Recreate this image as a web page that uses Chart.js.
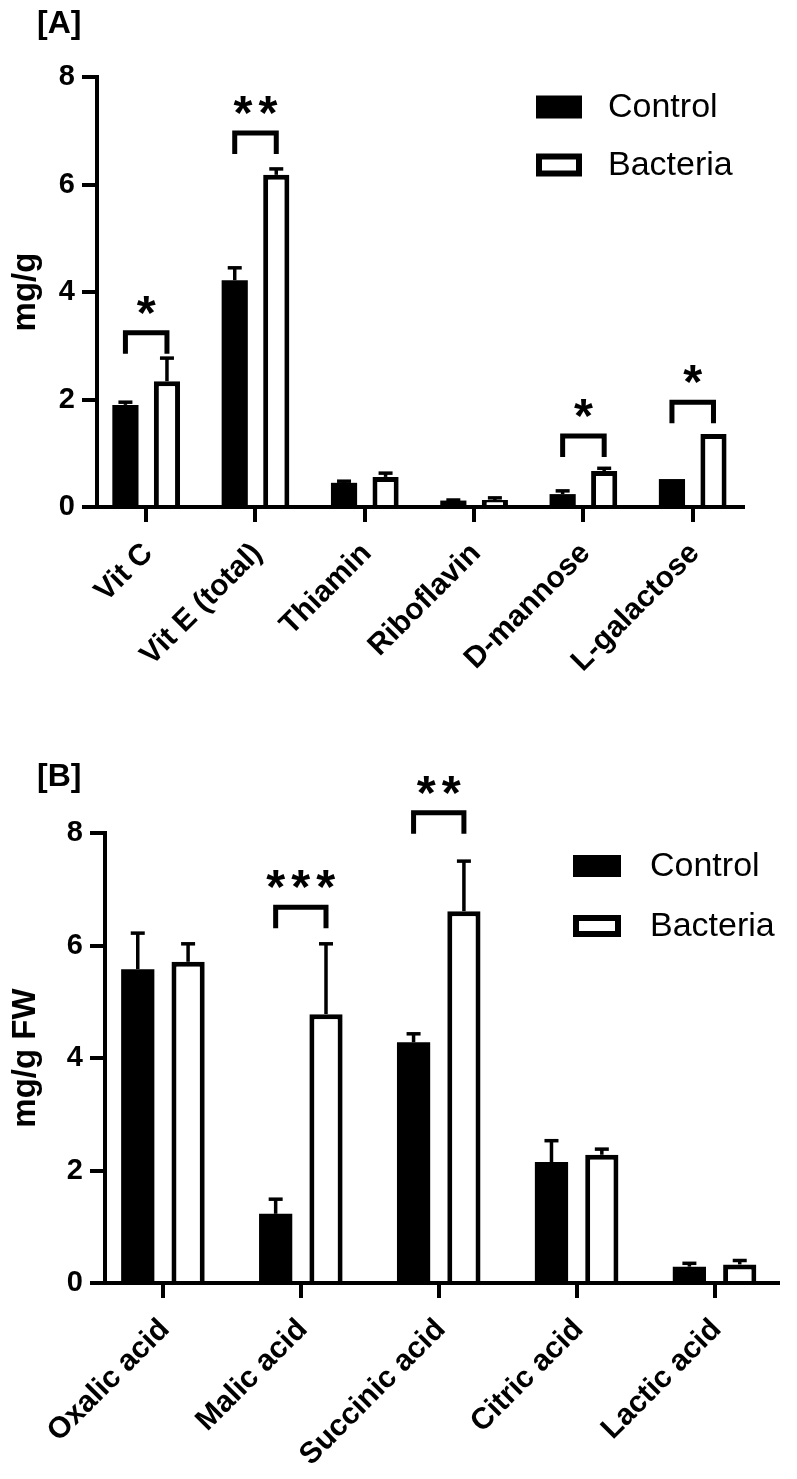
<!DOCTYPE html>
<html><head><meta charset="utf-8">
<script src="https://cdn.jsdelivr.net/npm/chart.js@4.4.1/dist/chart.umd.min.js"></script>
<style>
html,body{margin:0;padding:0;background:#fff;}
body{width:797px;height:1479px;position:relative;overflow:hidden;font-family:"Liberation Sans",Arial,sans-serif;}
.panel{position:absolute;left:0;width:797px;}
.tag{position:absolute;font-weight:bold;font-size:32px;line-height:32px;color:#000;}
</style></head><body>
<div class="panel" style="top:0;height:740px"><canvas id="cA"></canvas></div>
<div class="panel" style="top:740px;height:739px"><canvas id="cB"></canvas></div>
<div class="tag" style="left:37px;top:6px">[A]</div>
<div class="tag" style="left:37px;top:759px">[B]</div>
<script>
// ---------- Panel A data ----------
const catsA = ['Vit C', 'Vit E (total)', 'Thiamin', 'Riboflavin', 'D-mannose', 'L-galactose'];
const controlA = [1.90, 4.22, 0.45, 0.12, 0.24, 0.52];
const controlErrA = [0.05, 0.23, 0.03, 0.01, 0.06, 0];
const bacteriaA = [2.34, 6.18, 0.56, 0.13, 0.67, 1.36];
const bacteriaErrA = [0.43, 0.11, 0.07, 0.04, 0.05, 0];
const sigIdxA = [0, 1, 4, 5];
const sigLevelA = [3.24, 6.96, 1.32, 1.95];
const sigTextA = ['*', '**', '*', '*'];
const yTitleA = 'mg/g';

// ---------- Panel B data ----------
const catsB = ['Oxalic acid', 'Malic acid', 'Succinic acid', 'Citric acid', 'Lactic acid'];
const controlB = [5.58, 1.23, 4.28, 2.15, 0.29];
const controlErrB = [0.64, 0.26, 0.15, 0.38, 0.06];
const bacteriaB = [5.71, 4.78, 6.61, 2.28, 0.33];
const bacteriaErrB = [0.32, 1.25, 0.89, 0.10, 0.07];
const sigIdxB = [1, 2];
const sigLevelB = [6.68, 8.36];
const sigTextB = ['***', '**'];
const yTitleB = 'mg/g FW';

const yTicks = [0, 2, 4, 6, 8];
const seriesNames = ['Control', 'Bacteria'];

const FONT = '"Liberation Sans", Arial, Helvetica, sans-serif';
Chart.defaults.font.family = FONT;
Chart.defaults.color = '#000';

const overlay = {
  id: 'overlay',
  afterDatasetsDraw(chart, args, o) {
    const ctx = chart.ctx, ys = chart.scales.y;
    ctx.save();
    ctx.strokeStyle = '#000';
    ctx.fillStyle = '#000';
    ctx.lineCap = 'butt';
    // error bars
    o.errors.forEach((errs, di) => {
      const meta = chart.getDatasetMeta(di);
      const vals = chart.data.datasets[di].data;
      meta.data.forEach((bar, i) => {
        const e = errs[i];
        if (!e) return;
        const y0 = ys.getPixelForValue(vals[i]);
        const y1 = ys.getPixelForValue(vals[i] + e);
        ctx.lineWidth = 3.5;
        ctx.beginPath(); ctx.moveTo(bar.x, y0); ctx.lineTo(bar.x, y1); ctx.stroke();
        ctx.beginPath(); ctx.moveTo(bar.x - 7, y1); ctx.lineTo(bar.x + 7, y1); ctx.stroke();
      });
    });
    // significance brackets
    const m0 = chart.getDatasetMeta(0), m1 = chart.getDatasetMeta(1);
    ctx.font = 'bold 100px ' + FONT;
    const mm = ctx.measureText('*');
    const inkW = mm.actualBoundingBoxLeft + mm.actualBoundingBoxRight;
    const fs = 100 * 19 / inkW;
    ctx.font = 'bold ' + fs.toFixed(1) + 'px ' + FONT;
    const ms = ctx.measureText('*');
    o.sigIdx.forEach((ci, k) => {
      const xl = m0.data[ci].x, xr = m1.data[ci].x;
      const yb = ys.getPixelForValue(o.sigLevel[k]);
      ctx.lineWidth = 5;
      ctx.lineJoin = 'miter';
      ctx.beginPath();
      ctx.moveTo(xl, yb + 21); ctx.lineTo(xl, yb); ctx.lineTo(xr, yb); ctx.lineTo(xr, yb + 21);
      ctx.stroke();
      const txt = o.sigText[k];
      const cy = yb - 28;
      const base = cy + (ms.actualBoundingBoxAscent - ms.actualBoundingBoxDescent) / 2;
      const cx = (xl + xr) / 2;
      ctx.textAlign = 'center';
      ctx.textBaseline = 'alphabetic';
      for (let j = 0; j < txt.length; j++) {
        ctx.fillText(txt[j], cx + (j - (txt.length - 1) / 2) * 25, base);
      }
    });
    // legend
    const L = o.legend;
    chart.data.datasets.forEach((ds, i) => {
      const cy = L.y0 + i * L.dy;
      ctx.fillStyle = ds.borderColor;
      ctx.fillRect(L.x, cy - L.h / 2, L.w, L.h);
      if (ds.backgroundColor !== ds.borderColor) {
        ctx.fillStyle = ds.backgroundColor;
        ctx.fillRect(L.x + L.b, cy - L.h / 2 + L.b, L.w - 2 * L.b, L.h - 2 * L.b);
      }
      ctx.fillStyle = '#000';
      ctx.font = '34px ' + FONT;
      ctx.textAlign = 'left';
      ctx.textBaseline = 'middle';
      ctx.fillText(ds.label, L.tx, cy + 1);
    });
    ctx.restore();
  }
};

function makeChart(id, cats, ctrl, ctrlErr, bact, bactErr, sigIdx, sigLevel, sigText, yTitle, g) {
  return new Chart(document.getElementById(id), {
    type: 'bar',
    data: {
      labels: cats,
      datasets: [
        { label: seriesNames[0], data: ctrl, backgroundColor: '#000', borderColor: '#000', borderWidth: 0,
          barPercentage: g.barPct, categoryPercentage: g.catPct },
        { label: seriesNames[1], data: bact, backgroundColor: '#fff', borderColor: '#000', borderWidth: 5,
          barPercentage: g.barPct, categoryPercentage: g.catPct }
      ]
    },
    options: {
      responsive: true,
      maintainAspectRatio: false,
      devicePixelRatio: 1,
      animation: false,
      layout: { padding: { top: g.top, right: g.right, left: 0, bottom: 0 } },
      plugins: {
        legend: { display: false },
        tooltip: { enabled: false },
        overlay: { errors: [ctrlErr, bactErr], sigIdx, sigLevel, sigText, legend: g.legend }
      },
      scales: {
        x: {
          offset: true,
          grid: { display: true, drawOnChartArea: false, drawTicks: true, tickLength: 15, lineWidth: 4, color: '#000', offset: false },
          border: { display: true, color: '#000', width: 4 },
          ticks: { color: '#000', font: { size: 30, weight: 'bold' }, maxRotation: 45, minRotation: 45, autoSkip: false, padding: 14, labelOffset: 2 },
          afterFit(s) { s.height = g.xH; },
          afterBuildTicks(s) { s._startValue = -g.edgeL; s._valueRange = cats.length - 1 + g.edgeL + g.edgeR; }
        },
        y: {
          min: 0, max: 8,
          afterBuildTicks(s) { s.ticks = yTicks.map(v => ({ value: v })); },
          ticks: { color: '#000', font: { size: 29, weight: 'bold' }, padding: 7 },
          grid: { display: true, drawOnChartArea: false, drawTicks: true, tickLength: 15, lineWidth: 4, color: '#000' },
          border: { display: true, color: '#000', width: 4 },
          title: { display: true, text: yTitle, color: '#000', font: { size: 33, weight: 'bold' }, padding: { top: 6, bottom: 0 } },
          afterFit(s) { s.width = g.yW; }
        }
      }
    },
    plugins: [overlay]
  });
}

makeChart('cA', catsA, controlA, controlErrA, bacteriaA, bacteriaErrA, sigIdxA, sigLevelA, sigTextA, yTitleA, {
  top: 77, right: 54, yW: 97, xH: 233, edgeL: 0.45, edgeR: 0.46, barPct: 0.63, catPct: 0.76,
  legend: { x: 536, y0: 107, dy: 58, w: 46, h: 23, b: 6, tx: 608 }
});
makeChart('cB', catsB, controlB, controlErrB, bacteriaB, bacteriaErrB, sigIdxB, sigLevelB, sigTextB, yTitleB, {
  top: 93, right: 19, yW: 105, xH: 196, edgeL: 0.42, edgeR: 0.46, barPct: 0.66, catPct: 0.73,
  legend: { x: 573, y0: 126, dy: 60, w: 48, h: 22, b: 6, tx: 650 }
});
</script>
</body></html>
